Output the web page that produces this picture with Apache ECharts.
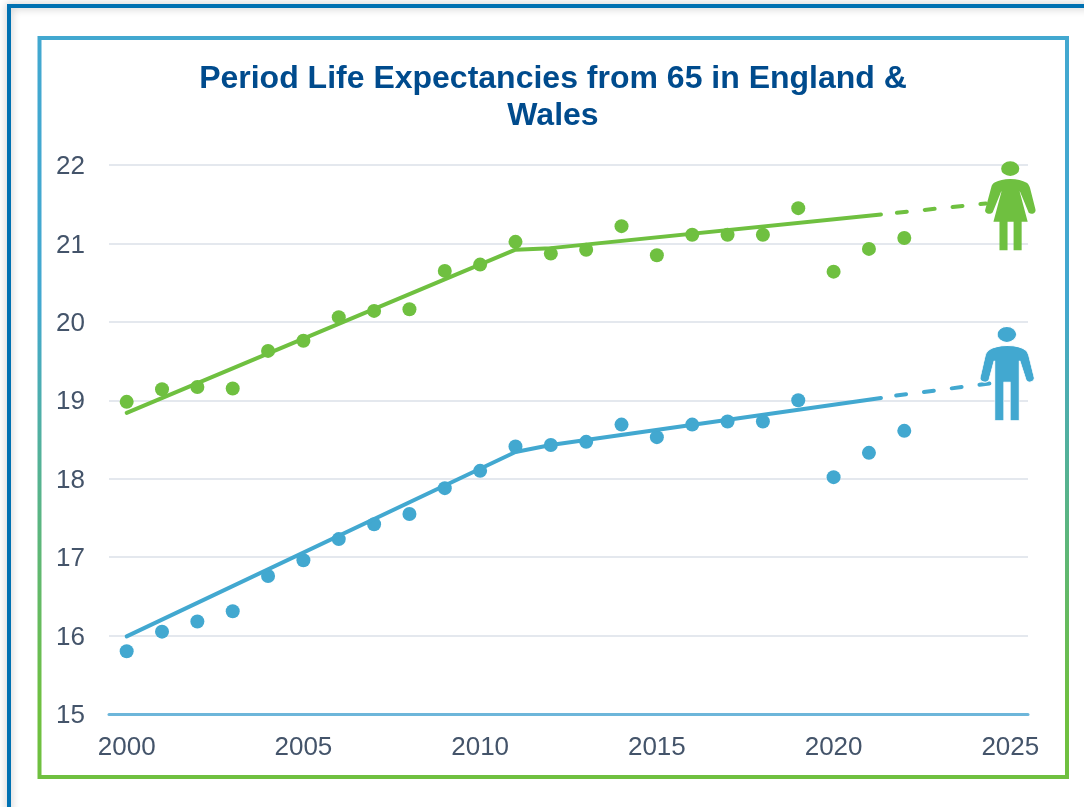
<!DOCTYPE html>
<html>
<head>
<meta charset="utf-8">
<style>html,body{margin:0;padding:0;background:#fff}#c{width:1084px;height:807px}</style>
<script src="https://cdn.jsdelivr.net/npm/echarts@6/dist/echarts.min.js"></script>
</head>
<body>
<div id="c"></div>
<script>
const titleText = 'Period Life Expectancies from 65 in England &\nWales';
const years = ['2000','2001','2002','2003','2004','2005','2006','2007','2008','2009','2010','2011','2012','2013','2014','2015','2016','2017','2018','2019','2020','2021','2022','2023','2024','2025'];
const femaleValues = [18.98,19.14,19.17,19.15,19.63,19.76,20.06,20.14,20.16,20.65,20.73,21.02,20.87,20.92,21.22,20.85,21.11,21.11,21.11,21.45,20.64,20.93,21.07];
const maleValues = [15.80,16.05,16.18,16.31,16.76,16.96,17.23,17.42,17.55,17.88,18.10,18.41,18.43,18.47,18.69,18.53,18.69,18.73,18.73,19.00,18.02,18.33,18.61];
const femaleTrend = [[2000,18.84],[2011,20.92],[2012,20.94],[2021.34,21.37]];
const femaleProjection = [[2021.79,21.39],[2024.31,21.51]];
const maleTrend = [[2000,15.99],[2011,18.34],[2012,18.43],[2021.34,19.03]];
const maleProjection = [[2021.77,19.06],[2024.5,19.22]];
const femaleIcon = [[2025.0,21.48]];
const maleIcon = [[2024.91,19.34]];

const GREEN = '#6FC040', BLUE = '#42A8D0', TEXT = '#44546A';
const womanPath = 'path://M302 84a27 22 0 1 0 54 0a27 22 0 1 0-54 0ZM329 115C350 115 365 120 378 126C384 130 386 136 388 142L404 205C407 215 395 224 384 216L358 152L357 152L381 243L363 243L363 328L339 328L339 243L321 243L321 328L297 328L297 243L279 243L303 152L302 152L277 214C268 224 250 216 255 205L272 142C274 132 278 128 284 125C295 120 310 115 329 115Z';
const manPath = 'path://M291 585a28 24 0 1 0 56 0a28 24 0 1 0-56 0ZM320 618C345 618 365 624 376 633C380 638 381 642 383 648L399 714C401 726 383 733 376 722L358 665L355 665L355 843L329 843L329 728L310 728L310 843L284 843L284 665L281 665L266 722C258 733 238 726 241 714L256 648C258 640 260 636 265 632C278 623 300 618 320 618Z';

const solid = (name, data, color) => ({name, type:'line', data, xAxisIndex:1, yAxisIndex:0, showSymbol:false, symbol:'none', silent:true, z:4,
  lineStyle:{color, width:4, cap:'round', join:'round'}});
const dashed = (name, data, color) => ({name, type:'line', data, xAxisIndex:1, yAxisIndex:0, showSymbol:false, symbol:'none', silent:true, z:4,
  lineStyle:{color, width:4, cap:'round', type:[10,18]}});
const dots = (name, data, color) => ({name, type:'scatter', data, xAxisIndex:0, yAxisIndex:0, symbolSize:14, silent:true, z:3, itemStyle:{color, opacity:1}});
const icon = (name, data, path, size, color, border) => ({name, type:'scatter', data, xAxisIndex:1, yAxisIndex:0, symbol:path, symbolSize:size, silent:true, z:6,
  itemStyle:{color, opacity:1, borderColor:border, borderWidth:border === color ? 0 : 0.8}});

const chart = echarts.init(document.getElementById('c'), null, {renderer:'canvas'});
chart.setOption({
  animation:false,
  backgroundColor:'#fff',
  textStyle:{fontFamily:'"Liberation Sans", Arial, sans-serif'},
  title:{text:titleText, left:548, top:56, textAlign:'center',
    textStyle:{color:'#004B8D', fontFamily:'"Liberation Sans", Arial, sans-serif', fontSize:32, fontWeight:'bold', lineHeight:37}},
  grid:{left:109, right:56, top:165, bottom:93, containLabel:false},
  xAxis:[
    {type:'category', data:years, boundaryGap:true, axisTick:{show:false},
      axisLine:{show:true, onZero:false, lineStyle:{color:'#6DB6DA', width:3}},
      axisLabel:{interval:4, color:TEXT, fontSize:26, margin:21, fontFamily:'"Liberation Sans", Arial, sans-serif'},
      splitLine:{show:false}},
    {type:'value', min:1999.5, max:2025.5, show:false, splitLine:{show:false}}
  ],
  yAxis:{type:'value', min:15, max:22, interval:1,
    axisLine:{show:false}, axisTick:{show:false},
    axisLabel:{formatter:'{a|{value}}', margin:24,
      rich:{a:{color:TEXT, fontSize:26, padding:[4,0,0,0], fontFamily:'"Liberation Sans", Arial, sans-serif'}}},
    splitLine:{show:true, lineStyle:{color:'#E4E8EE', width:2}}},
  graphic:[
    {type:'polyline', silent:true, z:0, shape:{points:[[9,830],[9,6],[1110,6]]},
      style:{fill:'none', stroke:'#0071B2', lineWidth:4, shadowBlur:8, shadowColor:'rgba(0,0,0,0.28)'}},
    {type:'rect', silent:true, z:0, shape:{x:39.5, y:38, width:1027.5, height:739},
      style:{fill:'#fff', lineWidth:4, stroke:new echarts.graphic.LinearGradient(0,0,0,1,[
        {offset:0, color:BLUE},{offset:0.36, color:BLUE},{offset:0.9, color:GREEN},{offset:1, color:GREEN}])}}
  ],
  series:[
    dots('Female', femaleValues, GREEN),
    dots('Male', maleValues, BLUE),
    solid('Female trend', femaleTrend, GREEN),
    dashed('Female projection', femaleProjection, GREEN),
    solid('Male trend', maleTrend, BLUE),
    dashed('Male projection', maleProjection, BLUE),
    icon('Female icon', femaleIcon, womanPath, [50.5,89], GREEN, GREEN),
    icon('Male icon', maleIcon, manPath, [54,94.5], BLUE, '#fff')
  ]
});
</script>
</body>
</html>
